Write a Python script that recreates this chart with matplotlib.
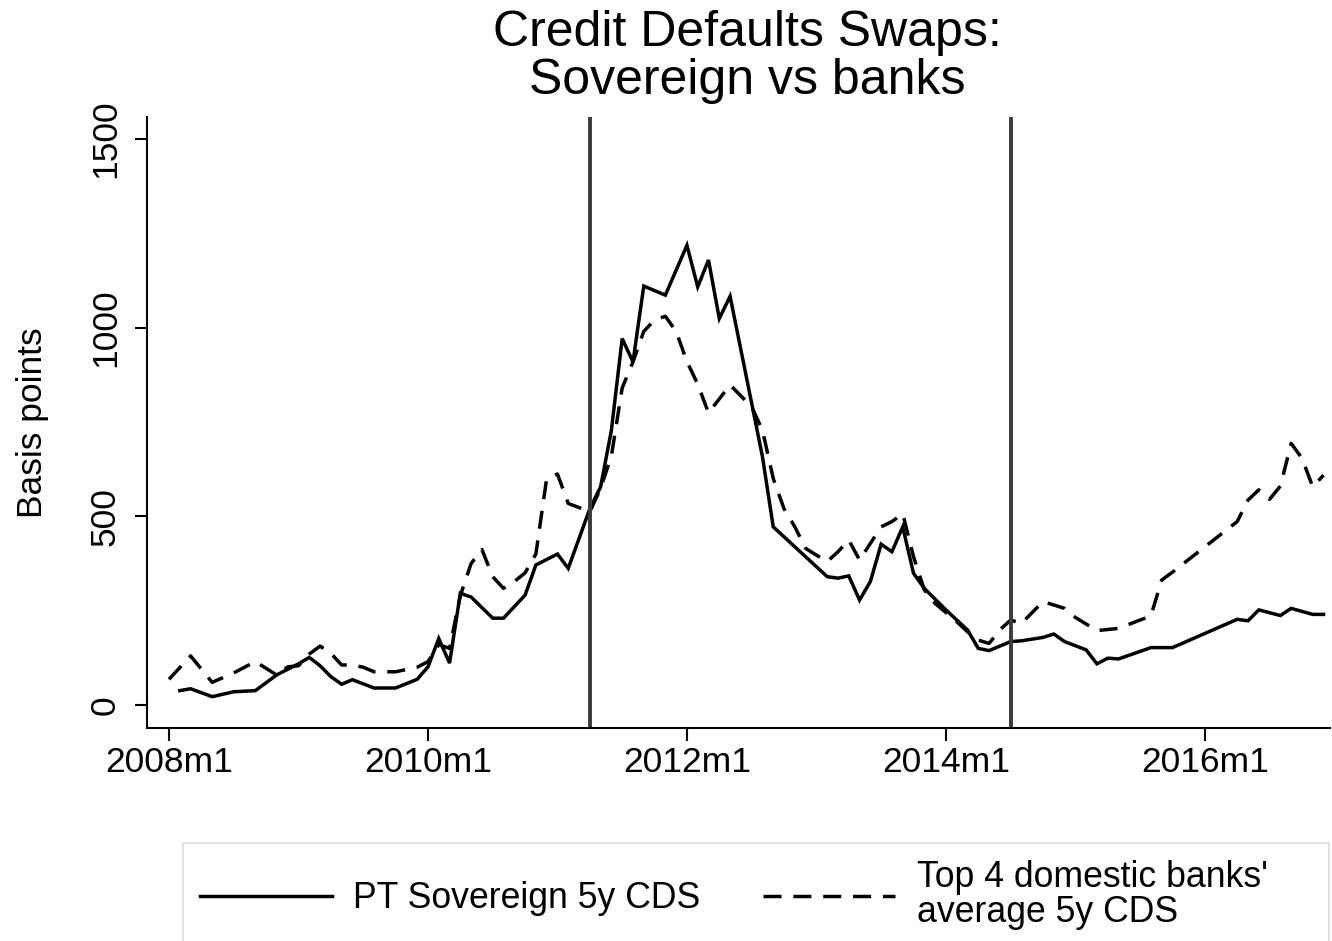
import matplotlib
matplotlib.use("Agg")
import matplotlib.pyplot as plt
from matplotlib.lines import Line2D
from matplotlib.patches import Rectangle

plt.rcParams['font.family'] = ['Liberation Sans', 'DejaVu Sans']

# -----------------------------
# data: monthly CDS spreads (basis points), Stata-style month labels
# -----------------------------
sov_months = ["2008m2", "2008m3", "2008m5", "2008m7", "2008m9", "2008m11",
              "2009m1", "2009m2", "2009m3", "2009m4", "2009m5", "2009m6",
              "2009m8", "2009m10", "2009m12", "2010m1", "2010m2", "2010m3",
              "2010m4", "2010m5", "2010m7", "2010m8", "2010m10", "2010m11",
              "2011m1", "2011m2", "2011m4", "2011m5", "2011m6", "2011m7",
              "2011m8", "2011m9", "2011m11", "2012m1", "2012m2", "2012m3",
              "2012m4", "2012m5", "2012m8", "2012m9", "2013m2", "2013m3",
              "2013m4", "2013m5", "2013m6", "2013m7", "2013m8", "2013m9",
              "2013m10", "2013m11", "2014m1", "2014m3", "2014m4", "2014m5",
              "2014m7", "2014m8", "2014m10", "2014m11", "2014m12", "2015m2",
              "2015m3", "2015m4", "2015m5", "2015m8", "2015m10", "2016m4",
              "2016m5", "2016m6", "2016m8", "2016m9", "2016m11", "2016m12"]
sov_cds = [38, 43, 22, 35, 38, 80,
           109, 126, 104, 75, 55, 67,
           45, 45, 68, 101, 176, 111,
           296, 286, 230, 230, 291, 371,
           400, 362, 520, 578, 728, 971,
           909, 1110, 1086, 1218, 1108, 1179,
           1024, 1083, 658, 472, 340, 336,
           342, 278, 327, 426, 406, 472,
           349, 309, 252, 199, 150, 144,
           168, 170, 179, 188, 168, 146,
           109, 124, 122, 152, 152, 227,
           223, 252, 237, 256, 240, 240]

bank_months = ["2008m1", "2008m3", "2008m5", "2008m7", "2008m9", "2008m11",
               "2008m12", "2009m1", "2009m2", "2009m3", "2009m4", "2009m5",
               "2009m6", "2009m7", "2009m8", "2009m10", "2009m11", "2009m12",
               "2010m1", "2010m2", "2010m3", "2010m4", "2010m5", "2010m6",
               "2010m7", "2010m8", "2010m9", "2010m10", "2010m11", "2010m12",
               "2011m1", "2011m2", "2011m4", "2011m5", "2011m6", "2011m7",
               "2011m8", "2011m9", "2011m10", "2011m11", "2011m12", "2012m1",
               "2012m2", "2012m3", "2012m5", "2012m7", "2012m8", "2012m9",
               "2012m10", "2012m11", "2012m12", "2013m1", "2013m2", "2013m3",
               "2013m4", "2013m5", "2013m6", "2013m7", "2013m8", "2013m9",
               "2013m10", "2013m11", "2013m12", "2014m2", "2014m3", "2014m4",
               "2014m5", "2014m6", "2014m7", "2014m8", "2014m10", "2014m12",
               "2015m1", "2015m3", "2015m5", "2015m8", "2015m9", "2015m10",
               "2016m4", "2016m5", "2016m6", "2016m7", "2016m8", "2016m9",
               "2016m10", "2016m11", "2016m12"]
bank_cds = [68, 130, 60, 85, 115, 79,
            101, 104, 135, 156, 137, 106,
            106, 100, 88, 88, 94, 100,
            115, 160, 150, 290, 375, 412,
            340, 309, 327, 350, 400, 600,
            612, 534, 512, 574, 660, 840,
            909, 990, 1020, 1030, 990, 910,
            850, 774, 848, 790, 728, 600,
            520, 472, 415, 397, 380, 406,
            437, 384, 428, 472, 486, 507,
            393, 305, 269, 221, 194, 172,
            163, 199, 225, 216, 274, 256,
            232, 197, 203, 236, 331, 352,
            486, 543, 570, 545, 580, 693,
            654, 578, 609]

# bailout request and programme exit
event_months = ["2011m4", "2014m7"]

tick_months = ["2008m1", "2010m1", "2012m1", "2014m1", "2016m1"]


def month_index(s):
    # "2008m1" -> months since 2008m1
    y, m = s.split("m")
    return (int(y) - 2008) * 12 + int(m) - 1


sov_x = [month_index(s) for s in sov_months]
bank_x = [month_index(s) for s in bank_months]

fig = plt.figure(figsize=(13.32, 9.41), dpi=100)
ax = fig.add_axes([147 / 1332, 1 - 728 / 941, (1330 - 147) / 1332, (728 - 117) / 941])

dash = (0, (5.2, 3.4))
ax.plot(sov_x, sov_cds, color="black", lw=2.5, solid_joinstyle="miter")
ax.plot(bank_x, bank_cds, color="black", lw=2.5, linestyle=dash)

for ev in event_months:
    ax.axvline(month_index(ev), color="#3a3a3a", lw=2.8)

ax.set_xlim(-2.04, 107.6)
ax.set_ylim(-61, 1558)

ax.set_xticks([month_index(t) for t in tick_months])
ax.set_xticklabels(tick_months)
ax.set_yticks([0, 500, 1000, 1500])
ax.set_yticklabels(["0", "500", "1000", "1500"], rotation=90, va="center")

ax.tick_params(axis="both", labelsize=25.5, length=9, width=1.5, color="black")
ax.tick_params(axis="x", pad=4)
ax.tick_params(axis="y", pad=9)

for side in ["top", "right"]:
    ax.spines[side].set_visible(False)
for side in ["left", "bottom"]:
    ax.spines[side].set_linewidth(1.5)

ax.set_ylabel("Basis points", fontsize=25.5)
ax.yaxis.set_label_coords(-0.083, 0.5)

fig.text(0.561, 1 - 10 / 941, "Credit Defaults Swaps:\nSovereign vs banks",
         ha="center", va="top", fontsize=36, linespacing=1.06)

# legend box runs off the bottom of the canvas
box_top = 1 - 843 / 941
fig.add_artist(Rectangle((183 / 1332, -0.1), (1329 - 183) / 1332, box_top + 0.1,
                         transform=fig.transFigure, fill=False,
                         edgecolor="#e2e2e2", lw=1.5))

handles = [Line2D([], [], color="black", lw=2.5),
           Line2D([], [], color="black", lw=2.5, linestyle=dash)]
labels = ["PT Sovereign 5y CDS", "Top 4 domestic banks'\naverage 5y CDS"]
leg = fig.legend(handles, labels, ncol=2, loc="center left",
                 bbox_to_anchor=(200 / 1332, 1 - 895 / 941),
                 frameon=False, fontsize=25.7, handlelength=3.7, handletextpad=0.6,
                 columnspacing=1.75, borderpad=0, borderaxespad=0)
for t in leg.get_texts():
    t.set_linespacing(1.02)

fig.savefig("out.png", dpi=100)
